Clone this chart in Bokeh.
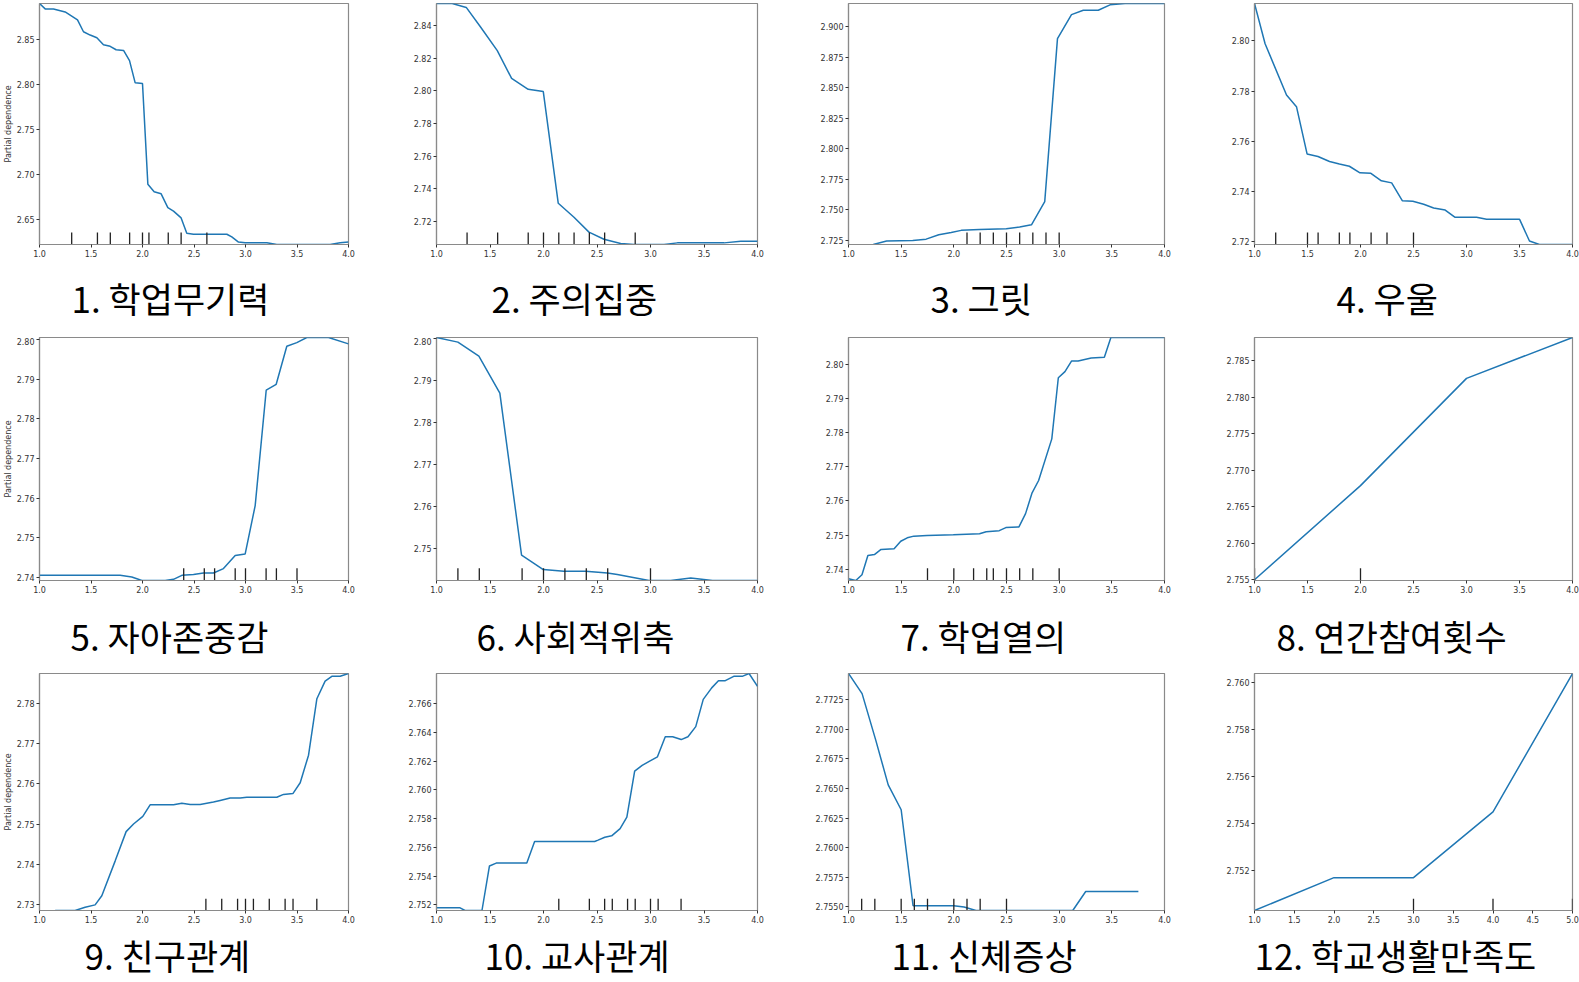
from bokeh.plotting import figure
from bokeh.layouts import column, row
from bokeh.models import Range1d, FixedTicker, NumeralTickFormatter, Title
from bokeh.embed import file_html
from bokeh.resources import INLINE

# ---------------- data ----------------
titles = ["1. 학업무기력", "2. 주의집중", "3. 그릿", "4. 우울",
          "5. 자아존중감", "6. 사회적위축", "7. 학업열의", "8. 연간참여횟수",
          "9. 친구관계", "10. 교사관계", "11. 신체증상", "12. 학교생활만족도"]

pd1_x = [1.0, 1.055, 1.136, 1.249, 1.369, 1.427, 1.492, 1.557, 1.621, 1.686, 1.744, 1.816, 1.874, 1.929, 2.0,
         2.026, 2.052, 2.113, 2.181, 2.246, 2.301, 2.375, 2.43, 2.495, 2.819, 2.867, 2.932, 2.997, 3.207, 3.304,
         3.822, 3.919, 4.0]
pd1_y = [2.890, 2.884, 2.884, 2.8806, 2.8719, 2.8587, 2.855, 2.852, 2.8443, 2.8425, 2.8387, 2.838, 2.8266, 2.802,
         2.8013, 2.7455, 2.6896, 2.6813, 2.679, 2.6636, 2.6598, 2.6523, 2.6353, 2.6342, 2.6342, 2.6312, 2.6255,
         2.6247, 2.6247, 2.6228, 2.6228, 2.6247, 2.6255]
rug1 = [1.3125, 1.5625, 1.6875, 1.875, 2.0, 2.0625, 2.25, 2.375, 2.625]

pd2_x = [1.0, 1.147, 1.278, 1.41, 1.568, 1.702, 1.857, 1.998, 2.138, 2.285, 2.425, 2.565, 2.721, 2.846, 3.127,
         3.251, 3.688, 3.844, 4.0]
pd2_y = [2.8537, 2.8537, 2.8513, 2.8394, 2.8248, 2.8077, 2.801, 2.7996, 2.731, 2.7224, 2.7133, 2.7089, 2.7063,
         2.7057, 2.7057, 2.7067, 2.7067, 2.7077, 2.7077]
rug2 = [1.2857, 1.5714, 1.8571, 2.0, 2.1429, 2.2857, 2.4286, 2.5714, 2.8571]

pd3_x = [1.0, 1.133, 1.235, 1.362, 1.61, 1.737, 1.857, 1.975, 2.07, 2.244, 2.498, 2.625, 2.737, 2.863, 2.984,
         3.117, 3.229, 3.371, 3.483, 3.625, 4.0]
pd3_y = [2.721, 2.721, 2.7214, 2.7242, 2.7247, 2.7258, 2.7294, 2.7313, 2.733, 2.7338, 2.7343, 2.7357, 2.7376,
         2.7566, 2.8904, 2.9101, 2.9137, 2.9137, 2.9181, 2.9192, 2.9192]
rug3 = [2.125, 2.25, 2.375, 2.5, 2.625, 2.75, 2.875, 3.0]

pd4_x = [1.0, 1.1, 1.302, 1.396, 1.496, 1.599, 1.708, 1.801, 1.895, 1.995, 2.098, 2.197, 2.294, 2.394, 2.494,
         2.596, 2.69, 2.799, 2.893, 3.095, 3.189, 3.501, 3.594, 3.688, 4.0]
pd4_y = [2.8148, 2.7988, 2.7784, 2.7738, 2.755, 2.754, 2.752, 2.751, 2.7501, 2.7475, 2.7473, 2.7443, 2.7435,
         2.7364, 2.7362, 2.735, 2.7335, 2.7327, 2.7298, 2.7298, 2.729, 2.729, 2.7204, 2.719, 2.719]
rug4 = [1.2, 1.5, 1.6, 1.8, 1.9, 2.1, 2.25, 2.5]

pd5_x = [1.0, 1.783, 1.896, 1.994, 2.22, 2.301, 2.382, 2.495, 2.592, 2.689, 2.786, 2.9, 2.997, 3.094, 3.201,
         3.298, 3.401, 3.498, 3.595, 3.806, 4.0]
pd5_y = [2.7405, 2.7405, 2.7401, 2.7392, 2.7392, 2.7395, 2.7405, 2.7407, 2.7411, 2.7411, 2.7422, 2.7455, 2.7459,
         2.7581, 2.7872, 2.7887, 2.7983, 2.7992, 2.8005, 2.8005, 2.7989]
rug5 = [2.4, 2.6, 2.7, 2.9, 3.0, 3.2, 3.3, 3.5]

pd6_x = [1.0, 1.2, 1.396, 1.592, 1.795, 1.998, 2.191, 2.394, 2.597, 2.69, 2.986, 3.189, 3.376, 3.579, 4.0]
pd6_y = [2.8002, 2.7991, 2.7958, 2.787, 2.7485, 2.7451, 2.7447, 2.7447, 2.7443, 2.7439, 2.7425, 2.7425, 2.7431,
         2.7425, 2.7425]
rug6 = [1.2, 1.4, 1.8, 2.0, 2.2, 2.4, 2.6, 3.0]

pd7_x = [1.0, 1.069, 1.128, 1.184, 1.246, 1.309, 1.433, 1.496, 1.558, 1.62, 1.745, 1.995, 2.244, 2.307, 2.431,
         2.494, 2.618, 2.681, 2.743, 2.805, 2.93, 2.992, 3.055, 3.117, 3.18, 3.304, 3.429, 3.491, 4.0]
pd7_y = [2.7372, 2.7367, 2.7384, 2.744, 2.7443, 2.7458, 2.746, 2.7482, 2.7492, 2.7497, 2.7499, 2.7501, 2.7504,
         2.751, 2.7513, 2.7522, 2.7524, 2.7563, 2.7624, 2.766, 2.7782, 2.7961, 2.7979, 2.801, 2.801, 2.8019, 2.8021,
         2.8079, 2.8079]
rug7 = [1.75, 2.0, 2.1875, 2.3125, 2.375, 2.5, 2.625, 2.75, 3.0]

pd8_x = [1.0, 2.0, 3.0, 4.0]
pd8_y = [2.755, 2.7679, 2.7826, 2.7882]
rug8 = [1.0, 2.0]

pd9_x = [1.152, 1.346, 1.443, 1.54, 1.605, 1.735, 1.841, 1.913, 2.003, 2.074, 2.301, 2.382, 2.463, 2.56, 2.689,
         2.754, 2.851, 2.948, 3.013, 3.304, 3.369, 3.46, 3.531, 3.612, 3.693, 3.773, 3.838, 3.919, 4.0]
pd9_y = [2.7284, 2.7284, 2.7292, 2.7298, 2.7321, 2.7408, 2.7481, 2.75, 2.7519, 2.7548, 2.7548, 2.7552, 2.7549,
         2.7549, 2.7555, 2.7559, 2.7565, 2.7565, 2.7567, 2.7567, 2.7574, 2.7576, 2.7603, 2.7672, 2.7813, 2.7857,
         2.7869, 2.7869, 2.7876]
rug9 = [2.6154, 2.7692, 2.9231, 3.0, 3.0769, 3.2308, 3.3846, 3.4615, 3.6923]

pd10_x = [1.0, 1.216, 1.266, 1.425, 1.495, 1.558, 1.844, 1.917, 2.478, 2.51, 2.573, 2.637, 2.716, 2.779, 2.852,
          2.922, 2.992, 3.065, 3.138, 3.207, 3.287, 3.35, 3.423, 3.493, 3.572, 3.635, 3.699, 3.778, 3.857, 3.921,
          4.0]
pd10_y = [2.7518, 2.7518, 2.7516, 2.7516, 2.7547, 2.7549, 2.7549, 2.7564, 2.7564, 2.7565, 2.7567, 2.7568, 2.7573,
          2.7581, 2.7613, 2.7617, 2.762, 2.7623, 2.7637, 2.7637, 2.7635, 2.7637, 2.7644, 2.7663, 2.7671, 2.7676,
          2.7676, 2.7679, 2.7679, 2.7681, 2.7672]
rug10 = [2.1429, 2.4286, 2.5714, 2.6429, 2.7857, 2.8571, 3.0, 3.0714, 3.2857]

pd11_x = [1.0, 1.129, 1.258, 1.377, 1.5, 1.613, 2.0, 2.097, 2.21, 3.129, 3.252, 3.752]
pd11_y = [2.7747, 2.773, 2.7691, 2.7653, 2.7632, 2.7551, 2.7551, 2.755, 2.7547, 2.7547, 2.7563, 2.7563]
rug11 = [1.125, 1.25, 1.5, 1.625, 1.75, 2.0, 2.125, 2.25, 2.5]

pd12_x = [1.0, 2.0, 3.0, 4.0, 5.0]
pd12_y = [2.7503, 2.7517, 2.7517, 2.7545, 2.7604]
rug12 = [3.0, 4.0, 5.0]

x_ticks_4 = [1.0, 1.5, 2.0, 2.5, 3.0, 3.5, 4.0]
x_ticks_5 = [1.0, 1.5, 2.0, 2.5, 3.0, 3.5, 4.0, 4.5, 5.0]

yt1 = [2.65, 2.70, 2.75, 2.80, 2.85]
yt2 = [2.72, 2.74, 2.76, 2.78, 2.80, 2.82, 2.84]
yt3 = [2.725, 2.750, 2.775, 2.800, 2.825, 2.850, 2.875, 2.900]
yt4 = [2.72, 2.74, 2.76, 2.78, 2.80]
yt5 = [2.74, 2.75, 2.76, 2.77, 2.78, 2.79, 2.80]
yt6 = [2.75, 2.76, 2.77, 2.78, 2.79, 2.80]
yt7 = [2.74, 2.75, 2.76, 2.77, 2.78, 2.79, 2.80]
yt8 = [2.755, 2.760, 2.765, 2.770, 2.775, 2.780, 2.785]
yt9 = [2.73, 2.74, 2.75, 2.76, 2.77, 2.78]
yt10 = [2.752, 2.754, 2.756, 2.758, 2.760, 2.762, 2.764, 2.766]
yt11 = [2.7550, 2.7575, 2.7600, 2.7625, 2.7650, 2.7675, 2.7700, 2.7725]
yt12 = [2.752, 2.754, 2.756, 2.758, 2.760]

ylim = [(2.6228, 2.890), (2.7057, 2.8537), (2.7214, 2.9192), (2.719, 2.8148),
        (2.7392, 2.8005), (2.7425, 2.8002), (2.7367, 2.8079), (2.7549, 2.7882),
        (2.7284, 2.7876), (2.7516, 2.7681), (2.7547, 2.7747), (2.7503, 2.7604)]
xlim = [(1, 4)] * 11 + [(1, 5)]

# ---------------- layout / style ----------------
panels = [
    (pd1_x, pd1_y, rug1, yt1, "0.00"), (pd2_x, pd2_y, rug2, yt2, "0.00"),
    (pd3_x, pd3_y, rug3, yt3, "0.000"), (pd4_x, pd4_y, rug4, yt4, "0.00"),
    (pd5_x, pd5_y, rug5, yt5, "0.00"), (pd6_x, pd6_y, rug6, yt6, "0.00"),
    (pd7_x, pd7_y, rug7, yt7, "0.00"), (pd8_x, pd8_y, rug8, yt8, "0.000"),
    (pd9_x, pd9_y, rug9, yt9, "0.00"), (pd10_x, pd10_y, rug10, yt10, "0.000"),
    (pd11_x, pd11_y, rug11, yt11, "0.0000"), (pd12_x, pd12_y, rug12, yt12, "0.000"),
]

# column geometry: (left border, frame width, right border)
col_geo = [(39, 309, 52), (36, 321, 49), (42, 316, 48), (42, 318, 7)]
# row geometry: (top border, frame height, bottom border, caption standoff)
row_geo = [(3, 241, 93, 20), (0, 243, 93, 24), (0, 237, 72, 3)]
# horizontal offset of each caption from its frame's left edge
title_off = [32, 55, 82, 82, 31, 40, 52, 22, 45, 48, 43, 0]

SPINE = "#8a8a8a"
TXT = "#333333"


def make_panel(i):
    xs, ys, rug, yt, yfmt = panels[i]
    r, c = divmod(i, 4)
    L, FW, R = col_geo[c]
    T, FH, B, ST = row_geo[r]
    y0, y1 = ylim[i]
    p = figure(width=L + FW + R, height=T + FH + B,
               x_range=Range1d(*xlim[i]), y_range=Range1d(y0, y1),
               min_border_left=L, min_border_right=R, min_border_top=T, min_border_bottom=B,
               output_backend="svg", toolbar_location=None)
    p.title.visible = False
    p.background_fill_color = "white"
    p.border_fill_color = "white"
    p.outline_line_color = SPINE
    p.outline_line_width = 1.2
    p.xgrid.visible = False
    p.ygrid.visible = False

    p.xaxis.ticker = FixedTicker(ticks=x_ticks_5 if i == 11 else x_ticks_4)
    p.xaxis.formatter = NumeralTickFormatter(format="0.0")
    p.yaxis.ticker = FixedTicker(ticks=yt)
    p.yaxis.formatter = NumeralTickFormatter(format=yfmt)
    for ax in (p.xaxis[0], p.yaxis[0]):
        ax.axis_line_color = SPINE
        ax.axis_line_width = 1.2
        ax.major_tick_line_color = TXT
        ax.major_tick_out = 3
        ax.major_tick_in = 0
        ax.minor_tick_line_color = None
        ax.major_label_text_font = "DejaVu Sans"
        ax.major_label_text_font_size = "8px"
        ax.major_label_text_color = TXT
        ax.major_label_standoff = 2
    if c == 0:
        p.yaxis.axis_label = "Partial dependence"
        p.yaxis.axis_label_text_font = "DejaVu Sans"
        p.yaxis.axis_label_text_font_size = "8px"
        p.yaxis.axis_label_text_font_style = "normal"
        p.yaxis.axis_label_text_color = TXT
        p.yaxis.axis_label_standoff = 1

    p.line(xs, ys, line_color="#1f77b4", line_width=1.5)
    h = (y1 - y0) * 0.05
    p.segment(x0=rug, y0=[y0] * len(rug), x1=rug, y1=[y0 + h] * len(rug),
              line_color="#222222", line_width=1.3)

    p.add_layout(Title(text=titles[i], align="left", offset=title_off[i], standoff=ST,
                       text_font="Noto Sans CJK KR", text_font_size="35px",
                       text_font_style="normal", text_color="black"), "below")
    return p


figs = [make_panel(i) for i in range(12)]
layout = column(row(*figs[0:4]), row(*figs[4:8]), row(*figs[8:12]))

open("out.html", "w").write(file_html(layout, INLINE))
